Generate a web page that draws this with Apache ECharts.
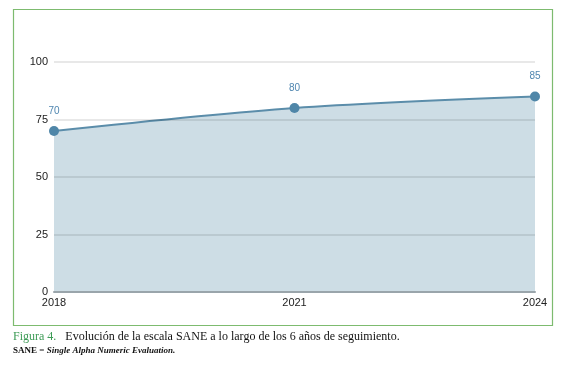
<!DOCTYPE html>
<html><head><meta charset="utf-8">
<script src="https://cdn.jsdelivr.net/npm/echarts@6/dist/echarts.min.js"></script>
<style>html,body{margin:0;padding:0;background:#fff}#c{width:567px;height:365px}</style>
</head><body><div id="c"></div>
<script>
const years = ['2018', '2021', '2024'];
const saneValues = [70, 80, 85];
const yTicks = [0, 25, 50, 75, 100];

const chart = echarts.init(document.getElementById('c'));
chart.setOption({
  animation: false,
  backgroundColor: '#fff',
  grid: { left: 54, right: 32, top: 62, bottom: 73 },
  xAxis: {
    type: 'category', data: years, boundaryGap: false, z: 4,
    axisLine: { show: true, lineStyle: { color: '#9aa5ab', width: 2 } },
    axisTick: { show: false },
    axisLabel: { color: '#222', fontFamily: 'Liberation Sans', fontSize: 11, margin: 5 }
  },
  yAxis: {
    type: 'value', min: yTicks[0], max: yTicks[yTicks.length - 1], interval: 25, z: 3,
    axisLine: { show: false }, axisTick: { show: false },
    splitLine: { lineStyle: { color: 'rgba(0,0,0,0.09)', width: 2 } },
    axisLabel: { color: '#222', fontFamily: 'Liberation Sans', fontSize: 11, margin: 6 }
  },
  series: [{
    type: 'line', data: saneValues, smooth: 0.3, z: 2,
    symbol: 'circle', symbolSize: 10,
    itemStyle: { color: '#4f86a8' },
    lineStyle: { color: '#5b8daa', width: 2 },
    areaStyle: { color: '#cddde5', opacity: 1 },
    label: { show: true, position: 'top', distance: 10, color: '#4f86b0', fontFamily: 'Liberation Sans', fontSize: 10 }
  }],
  graphic: [
    { type: 'rect', shape: { x: 13.5, y: 9.5, width: 539, height: 316 }, style: { fill: null, stroke: '#7dbb6f', lineWidth: 1.2 }, silent: true },
    { type: 'text', left: 13, top: 331, style: { text: '{g|Figura 4.}{b|   Evolución de la escala SANE a lo largo de los 6 años de seguimiento.}', rich: {
      g: { fill: '#3c9b55', fontFamily: 'Liberation Serif', fontSize: 12 },
      b: { fill: '#111', fontFamily: 'Liberation Serif', fontSize: 12 } } } },
    { type: 'text', left: 13, top: 346, style: { text: '{a|SANE = }{i|Single Alpha Numeric Evaluation.}', rich: {
      a: { fill: '#111', fontFamily: 'Liberation Serif', fontSize: 9, fontWeight: 'bold' },
      i: { fill: '#111', fontFamily: 'Liberation Serif', fontSize: 9, fontWeight: 'bold', fontStyle: 'italic' } } } }
  ]
});
</script></body></html>
